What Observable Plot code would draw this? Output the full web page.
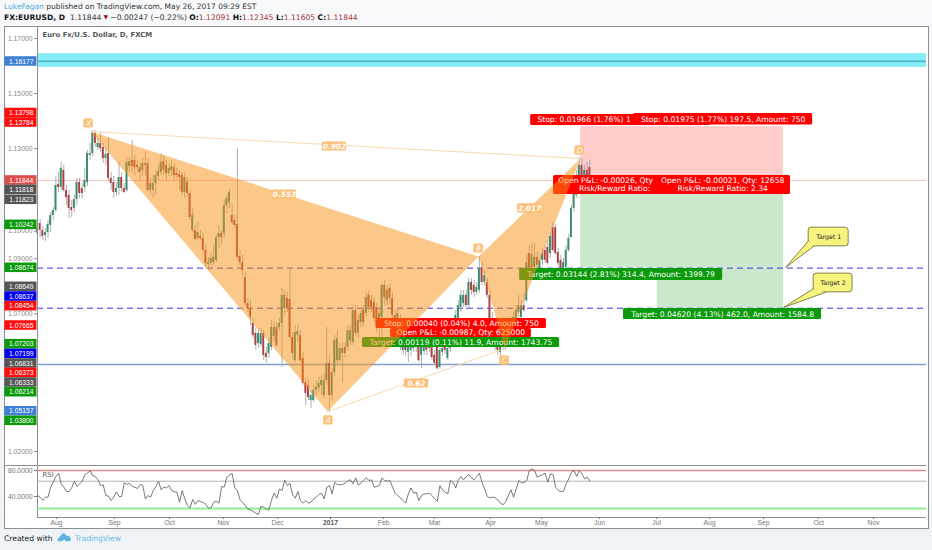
<!DOCTYPE html>
<html>
<head>
<meta charset="utf-8">
<script src="https://cdn.jsdelivr.net/npm/d3@7"></script>
<script src="https://cdn.jsdelivr.net/npm/@observablehq/plot@0.6"></script>
<style>
html,body{margin:0;padding:0;background:#f2f5f9;}
#wrap{position:relative;width:932px;height:550px;overflow:hidden;background:linear-gradient(#f7f9fb,#eff3f8);font-family:"Liberation Sans",Arial,sans-serif;}
#pane{position:absolute;left:4px;top:26px;width:923px;height:501px;background:#fff;border:1px solid #8e8e8e;}
.head{position:absolute;left:4px;white-space:nowrap;font-family:"DejaVu Sans",sans-serif;color:#333;}
#h1{top:2px;font-size:7.5px;}
#h1 b{color:#55a9dc;font-weight:normal;}
#h2{top:13px;font-size:7.6px;}
#h2 b{color:#111;}
#h2 i{font-style:normal;color:#a8323a;}
#tri{display:inline-block;width:7px;margin:0 1px;text-align:center;color:#8f1a1a;font-size:6px;overflow:hidden;vertical-align:baseline;}
#plotA,#plotB{position:absolute;left:0;}
#plotA{top:26px;}#plotB{top:465px;}
#foot{position:absolute;left:4px;top:534px;font-family:"DejaVu Sans",sans-serif;font-size:7.6px;color:#222;white-space:nowrap;}
#foot svg{position:absolute;left:52px;top:-3px;}
#foot span{position:absolute;left:71px;top:0;color:#69b8e2;font-size:7.6px;}
</style>
</head>
<body>
<div id="wrap">
<div id="pane"></div>
<div id="h1" class="head"><b>LukeFagan</b> published on TradingView.com, May 26, 2017 09:29 EST</div>
<div id="h2" class="head"><b>FX:EURUSD, D</b>&nbsp; 1.11844<span id="tri">▼</span>−0.00247 (−0.22%) <b>O:</b><i>1.12091</i> <b>H:</b><i>1.12345</i> <b>L:</b><i>1.11605</i> <b>C:</b><i>1.11844</i></div>
<div id="plotA"></div>
<div id="plotB"></div>
<div id="foot">Created with
<svg width="16" height="13" viewBox="0 0 16 13"><path d="M1 9 L6 3 Q7.5 1.5 9 3 L11 5 Q12.5 4 14 6 L15 9 Q12 12 8 8.5 Q4.5 12 1 9Z" fill="#5db4e0"/></svg>
<span>TradingView</span></div>
</div>
<script>
// Daily candles, price x 10000, one entry per trading day
const opens=[10992,11028,11003,10984,10995,11021,11057,11075,11170,11159,11221,11148,11130,11086,11083,11115,11177,11155,11159,11177,11275,11282,11355,11304,11319,11304,11264,11282,11192,11177,11141,11155,11195,11155,11148,11235,11257,11257,11239,11231,11221,11239,11246,11148,11148,11173,11199,11213,11253,11239,11210,11221,11231,11210,11206,11202,11141,11177,11137,11003,11003,10974,10981,10974,10930,10879,10883,10886,10894,10977,10992,10992,11093,11104,11057,11039,11024,10908,10886,10832,10737,10719,10665,10629,10592,10589,10629,10556,10556,10578,10618,10650,10650,10665,10719,10756,10752,10614,10530,10621,10621,10538,10451,10440,10385,10385,10422,10429,10440,10403,10458,10520,10403,10487,10530,10530,10556,10578,10578,10603,10596,10712,10629,10668,10712,10701,10767,10748,10741,10723,10650,10687,10803,10748,10792,10756,10694,10683,10676,10567,10596,10560,10567,10574,10596,10578,10549,10563,10585,10574,10578,10549,10578,10505,10560,10578,10538,10574,10610,10650,10683,10723,10737,10767,10730,10814,10803,10778,10785,10865,10814,10814,10767,10683,10629,10592,10560,10578,10596,10614,10668,10658,10683,10705,10687,10730,10748,10919,10868,10868,10905,10865,10894,10930,10941,10919,11013,11013,10923,10894,10865,10868,10930,10977,11083,11130,11192,11239,11202,11221,11231];
const highs=[11032,11043,11017,11010,11039,11068,11086,11199,11213,11250,11239,11166,11148,11112,11130,11192,11192,11173,11228,11293,11319,11366,11366,11337,11355,11319,11304,11340,11213,11199,11177,11250,11213,11173,11268,11268,11330,11275,11257,11250,11264,11286,11264,11192,11202,11221,11239,11282,11275,11257,11246,11257,11246,11228,11221,11213,11213,11195,11148,11083,11021,11032,11003,10992,10948,10905,10923,10948,10984,11021,11003,11112,11130,11151,11101,11057,11300,10930,10912,10850,10756,10748,10683,10647,10647,10647,10639,10578,10610,10676,10668,10668,10683,10792,10785,10778,10868,10632,10658,10658,10639,10560,10465,10458,10422,10440,10458,10469,10476,10483,10650,10549,10501,10621,10639,10592,10596,10596,10658,10658,10730,10730,10694,10719,10730,10778,10785,10767,10759,10741,10719,10810,10821,10803,10810,10774,10712,10719,10694,10621,10639,10610,10603,10610,10614,10596,10596,10596,10603,10603,10596,10567,10592,10585,10592,10596,10592,10639,10676,10712,10748,10785,10785,10785,10828,10828,10821,10814,10908,10886,10857,10828,10785,10705,10647,10610,10603,10621,10639,10668,10687,10705,10730,10767,10748,10774,10912,10948,10955,10955,10923,10912,10937,10948,10966,10995,11032,11024,10937,10912,10901,10948,10988,11093,11148,11221,11268,11264,11239,11250,11257];
const lows=[10966,10974,10966,10963,10974,10995,11039,11068,11141,11148,11141,11093,11046,11050,11068,11093,11119,11119,11141,11162,11257,11271,11304,11293,11286,11246,11239,11184,11148,11119,11126,11130,11141,11137,11141,11213,11213,11202,11213,11184,11199,11202,11141,11130,11122,11130,11184,11202,11202,11184,11199,11199,11184,11184,11148,11130,11119,11126,11039,10995,10966,10963,10966,10923,10865,10857,10872,10876,10886,10937,10948,10974,11064,11083,11024,11010,10894,10872,10836,10730,10705,10658,10610,10567,10574,10578,10530,10520,10538,10567,10596,10578,10639,10505,10694,10705,10603,10538,10523,10596,10523,10440,10367,10385,10356,10378,10403,10414,10403,10393,10440,10342,10385,10472,10512,10523,10451,10538,10567,10585,10585,10618,10610,10650,10654,10690,10705,10705,10668,10632,10603,10603,10730,10730,10730,10683,10639,10639,10567,10549,10545,10523,10545,10560,10560,10523,10501,10549,10549,10560,10530,10512,10494,10498,10545,10552,10530,10560,10596,10639,10668,10705,10723,10712,10719,10767,10759,10767,10774,10803,10799,10756,10658,10610,10567,10549,10545,10567,10567,10596,10629,10647,10668,10683,10676,10705,10741,10850,10857,10857,10857,10850,10876,10883,10876,10901,10923,10912,10872,10850,10854,10857,10923,10974,11068,11119,11177,11192,11184,11184,11173];
const closes=[11010,11003,10981,10995,11024,11057,11075,11166,11159,11228,11148,11122,11083,11075,11115,11177,11137,11137,11184,11282,11282,11355,11319,11319,11300,11264,11279,11192,11173,11141,11155,11195,11155,11141,11250,11253,11235,11231,11231,11213,11246,11246,11148,11173,11173,11202,11217,11250,11221,11210,11228,11235,11202,11202,11195,11141,11195,11137,11050,11057,10970,10995,10974,10930,10883,10886,10901,10905,10977,10992,10977,11093,11119,11141,11032,11021,10905,10886,10857,10737,10719,10687,10621,10585,10629,10629,10549,10541,10592,10650,10650,10585,10665,10767,10767,10719,10614,10556,10632,10636,10530,10447,10411,10396,10403,10422,10432,10447,10458,10458,10520,10403,10487,10603,10610,10574,10574,10556,10639,10639,10712,10629,10676,10701,10668,10759,10723,10723,10683,10650,10701,10803,10759,10785,10756,10694,10658,10701,10585,10603,10567,10585,10585,10596,10578,10530,10578,10578,10567,10585,10541,10520,10501,10567,10574,10567,10574,10621,10658,10694,10730,10767,10767,10730,10814,10785,10778,10796,10865,10814,10839,10767,10676,10621,10578,10567,10585,10603,10621,10647,10639,10687,10712,10730,10730,10712,10886,10865,10915,10905,10876,10894,10919,10894,10883,10981,10930,10919,10883,10865,10886,10930,10974,11083,11137,11202,11239,11202,11221,11202,11184];
const rsi=[41.5,39,34,39,39,54.4,62,70.8,75.9,59.5,54.4,47.7,47.7,53.3,63.6,55.4,59.5,63.6,73.8,75.9,80,71.8,70.8,65.6,56.9,57.9,41.5,40.5,33.8,38.9,47.2,40,40,61,58.5,60.5,55.4,54.4,52.3,58.5,57.4,36.4,41.5,39,49.2,55.4,63.6,50.2,54.4,53.3,56.9,49.2,47.2,46.7,31.3,49.2,36.4,26.1,22.6,35.4,27.7,33.8,32.3,30.8,27.7,22,22.6,31.3,32.8,29.7,55.4,54.4,69.7,73.3,75.4,53.3,49.2,34.9,31.3,26.1,20.5,19.5,16.9,14.4,12.3,25.1,23.6,20,19.5,34.9,45.1,37.4,51.8,49.2,65.1,56.9,60.5,42.6,37.4,47.7,33.8,29.7,33.8,29.7,31.3,36.4,39,43.1,45.1,36.4,54.4,56.9,44.1,62,58.5,58,58.5,60.5,64.6,65.6,59.5,68.7,57.4,61,64.6,68.7,64.6,65.6,54.4,55.4,57,68.7,64.6,63.6,64.6,54.4,45.1,41.5,38,33.8,29.7,44,53.3,45.1,46.7,33.8,41.5,44.1,44.1,45.1,41.5,36.4,32.8,56.9,50.2,46.7,44.1,64.6,62,53.3,65.6,70.8,65.6,70.8,73.8,68.7,65.6,70.8,75.9,62,51.8,40,38,39,38,34.9,29.7,27.2,32.3,41.5,50.2,39,51.8,64.6,61,61.5,64.6,80,82.6,80,69.7,71.8,73.8,75.9,62,74.9,73.8,54.4,49.2,47.7,48.2,59.5,67.2,77.4,80,70.8,80,74.9,67.2,69.7,63.6];

// Axes (levels fully covered by price tags are left out)
const priceTicks=[1.02,1.07,1.09,1.10,1.13,1.15,1.17];
const monthBars=[7.2,29.3,50.2,70.7,91.3,131.6,151,172.2,191.6,213.7,235.4,255.5,276,297,317.9];
const monthNames=["Aug","Sep","Oct","Nov","Dec","Feb","Mar","Apr","May","Jun","Jul","Aug","Sep","Oct","Nov"];
const yearBar=111.4;
const rsiTicks=[40,80];

// Price tags on the axis
const tagText=["1.16177","1.13798","1.13784","1.11844","1.11818","1.11823","1.10242","1.08674","1.08649","1.08637","1.08454","1.07665","1.07203","1.07199","1.06831","1.06373","1.06333","1.06214","1.05157","1.03800"];
const tagPrice=[1.16165,1.14294,1.13949,1.11844,1.11504,1.11141,1.10233,1.08671,1.07981,1.07628,1.07276,1.06575,1.05896,1.05547,1.05195,1.04857,1.04505,1.04152,1.03462,1.03113];
const tagFill=["#3f7fd6","#ff0d0d","#ff0d0d","#dd4f4c","#555","#555","#0a9a0a","#0a9a0a","#555","#0000ee","#ff0d0d","#ff0d0d","#0a9a0a","#0000ee","#555","#ff0d0d","#555","#0a9a0a","#3f7fd6","#0a9a0a"];

// Levels
const bandLow=1.15947, bandHigh=1.16455, bandLevel=1.16177;
const lastPrice=1.11844, target1=1.08674, target2=1.07203, supportLevel=1.05157, stopLevel=1.13798;
const positionStart=206.5, positionEnd=283.6, target2Start=235.6;

// Harmonic pattern
const patBar=[20.2,110.3,167.7,177.7,206.5];
const patPrice=[1.1362,1.0345,1.0908,1.0574,1.1264];
const patNames=["X","A","B","C","D"];
const patNameBar=[19.4,110.6,167.7,177.6,206.1];
const patNamePrice=[1.1391,1.0313,1.0937,1.0530,1.1293];
const ratioText=["0.902","0.553","2.017","0.62"];
const ratioBar=[112.9,93.9,187.1,144.1];
const ratioPrice=[1.1308,1.1133,1.1083,1.0447];

// Position labels: boxes, back to front
const boxBar1=[187.5,226.6,196.2,234.6,128.9,134.2,123.6,183.3,222.8];
const boxBar2=[255.9,294.7,248.3,286.3,193.5,187.8,198.5,260.5,298.1];
const boxTop=[1.1424,1.1428,1.1202,1.1202,1.0683,1.0647,1.0614,1.0865,1.0719];
const boxBottom=[1.1384,1.1386,1.1133,1.1133,1.0647,1.0614,1.0578,1.0821,1.0679];
const boxFill=["#f00","#f00","#f00","#f00","#f00","#f00","#0a9a0a","#0a9a0a","#0a9a0a"];
// Position labels: the text that stays visible, with the bar and price of its centre
const labelText=["Stop: 0.01966 (1.76%) 1","Stop: 0.01975 (1.77%) 197.5, Amount: 750","Open P&L: -0.00026, Qty","Risk/Reward Ratio:","Open P&L: -0.00021, Qty: 12658","Risk/Reward Ratio: 2.34","Stop: 0.00040 (0.04%) 4.0, Amount: 750","Open P&L: -0.00987, Qty: 625000","Target: 0.00119 (0.11%) 11.9, Amount: 1743.75","Target: 0.03144 (2.81%) 314.4, Amount: 1399.79","Target: 0.04620 (4.13%) 462.0, Amount: 1584.8"];
const labelBar=[207.8,260.7,216,219.4,260.5,260.5,161.2,161,161,221.9,260.5];
const labelPrice=[1.1404,1.1407,1.1184,1.1155,1.1184,1.1155,1.0665,1.0631,1.0596,1.0843,1.0699];

// Callouts
const noteText=["Target 1","Target 2"];
const noteBar1=[293.2,295.1], noteBar2=[308.4,309.9];
const noteTop=[1.1013,1.0846], noteBottom=[1.0945,1.0778];
const tailBar=[[293.2,284.4,295.1],[295.1,283.7,299.6]];
const tailPrice=[[1.0966,1.0868,1.0945],[1.0792,1.0723,1.0778]];

const bars=opens.map((o,i)=>({i,o:o/1e4,h:highs[i]/1e4,l:lows[i]/1e4,c:closes[i]/1e4}));
const up=bars.filter(b=>b.c>=b.o), down=bars.filter(b=>b.c<b.o);
const tags=tagText.map((t,i)=>({t,y:tagPrice[i],f:tagFill[i]}));
const boxes=boxBar1.map((x1,i)=>({x1,x2:boxBar2[i],y1:boxTop[i],y2:boxBottom[i],f:boxFill[i]}));
const labels=labelText.map((t,i)=>({t,x:labelBar[i],y:labelPrice[i]}));
const notes=noteText.map((t,i)=>({t,x1:noteBar1[i],x2:noteBar2[i],y1:noteTop[i],y2:noteBottom[i]}));
const triangle=idx=>idx.map(k=>({x:patBar[k],y:patPrice[k]}));
const tagWidth=12.36, tagHalf=0.00173, smallHalf=0.00165;
const ORANGE="#f99115", SANS="DejaVu Sans, sans-serif";

const main=Plot.plot({
  width:932,height:439,marginTop:0,marginBottom:0,marginLeft:37,marginRight:6,
  style:{background:"transparent",overflow:"visible",fontFamily:"Liberation Sans, Arial, sans-serif"},
  x:{type:"linear",domain:[0,338],axis:null},
  y:{type:"linear",domain:[1.0149,1.17436],axis:null},
  marks:[
    Plot.rect([0],{x1:0,x2:338,y1:bandLow,y2:bandHigh,fill:"#86ecf7"}),
    Plot.ruleY([bandLevel],{stroke:"#2b87a6",strokeWidth:0.9}),
    Plot.rect([0],{x1:positionStart,x2:positionEnd,y1:lastPrice,y2:stopLevel,fill:"#ffcccc"}),
    Plot.rect([0],{x1:positionStart,x2:positionEnd,y1:target1,y2:lastPrice,fill:"#cce8cc"}),
    Plot.rect([0],{x1:target2Start,x2:positionEnd,y1:target2,y2:target1,fill:"#cce8cc"}),
    Plot.ruleY([lastPrice],{stroke:"#f6c6c2",strokeWidth:1}),
    Plot.ruleY([supportLevel],{stroke:"#7f9fd0",strokeWidth:1.6}),
    Plot.ruleY([target1],{stroke:"#3c34dc",strokeWidth:1,strokeDasharray:"6,4",dy:0.4}),
    Plot.ruleY([target2],{stroke:"#3c34dc",strokeWidth:1,strokeDasharray:"6,4"}),
    Plot.ruleX(bars,{x:"i",y1:"l",y2:"h",stroke:"#9c9c9c",strokeWidth:0.8}),
    Plot.rect(up,{x1:d=>d.i-0.36,x2:d=>d.i+0.36,y1:"o",y2:"c",fill:"#3a8a70"}),
    Plot.rect(down,{x1:d=>d.i-0.36,x2:d=>d.i+0.36,y1:"o",y2:"c",fill:"#ad4240"}),
    Plot.rect(boxes,{x1:"x1",x2:"x2",y1:"y1",y2:"y2",fill:"f",rx:1.5}),
    Plot.text(labels,{x:"x",y:"y",text:"t",fill:"#fff",fontSize:7.6,fontFamily:SANS}),
    Plot.line(triangle([0,1,2,0]),{x:"x",y:"y",fill:ORANGE,fillOpacity:0.5,stroke:"none"}),
    Plot.line(triangle([2,3,4,2]),{x:"x",y:"y",fill:ORANGE,fillOpacity:0.5,stroke:"none"}),
    Plot.line(triangle([0,4]),{x:"x",y:"y",stroke:"#fbd7ab",strokeWidth:1}),
    Plot.line(triangle([1,3]),{x:"x",y:"y",stroke:"#fbd7ab",strokeWidth:1}),
    Plot.rect(ratioText,{x1:(d,i)=>ratioBar[i]-4.6,x2:(d,i)=>ratioBar[i]+4.6,y1:(d,i)=>ratioPrice[i]-smallHalf,y2:(d,i)=>ratioPrice[i]+smallHalf,fill:"#fdbf76",rx:1.5}),
    Plot.text(ratioText,{x:(d,i)=>ratioBar[i],y:(d,i)=>ratioPrice[i],text:d=>d,fill:"#fff",fontSize:7.4,fontStyle:"italic",fontWeight:"bold",fontFamily:SANS}),
    Plot.rect(patNames,{x1:(d,i)=>patNameBar[i]-1.8,x2:(d,i)=>patNameBar[i]+1.8,y1:(d,i)=>patNamePrice[i]-smallHalf,y2:(d,i)=>patNamePrice[i]+smallHalf,fill:"#fdbf76",rx:1.5}),
    Plot.text(patNames,{x:(d,i)=>patNameBar[i],y:(d,i)=>patNamePrice[i],text:d=>d,fill:"#fff",fontSize:7.4,fontStyle:"italic",fontFamily:SANS}),
    Plot.text(["Euro Fx/U.S. Dollar, D, FXCM"],{text:d=>d,frameAnchor:"top-left",dx:5,dy:6,fill:"#555",fontSize:6.9,fontWeight:"bold",fontFamily:SANS,textAnchor:"start"}),
    Plot.rect(notes,{x1:"x1",x2:"x2",y1:"y1",y2:"y2",fill:"#f6f37f",stroke:"#66662a",strokeWidth:0.8,rx:3}),
    ...tailBar.map((t,k)=>Plot.line(t.map((x,j)=>({x,y:tailPrice[k][j]})),{x:"x",y:"y",fill:"#f6f37f",stroke:"#66662a",strokeWidth:0.8})),
    Plot.text(notes,{x:d=>(d.x1+d.x2)/2,y:d=>(d.y1+d.y2)/2,text:"t",fill:"#222",fontSize:6.2,fontFamily:SANS}),
    Plot.axisY(priceTicks,{anchor:"left",tickSize:3,tickPadding:2,tickFormat:d3.format(".5f"),label:null,color:"#8a8a8a",fontSize:6.8}),
    Plot.ruleX([0],{stroke:"#8e8e8e",strokeWidth:1}),
    Plot.rect(tags,{x1:-tagWidth,x2:-0.2,y1:d=>d.y-tagHalf,y2:d=>d.y+tagHalf,fill:"f"}),
    Plot.text(tags,{x:-tagWidth/2,y:"y",text:"t",fill:"#fff",fontSize:6.8})
  ]
});
document.getElementById("plotA").appendChild(main);

const lower=Plot.plot({
  width:932,height:63,marginTop:0,marginBottom:11,marginLeft:37,marginRight:6,
  style:{background:"transparent",overflow:"visible",fontFamily:"Liberation Sans, Arial, sans-serif"},
  x:{type:"linear",domain:[0,338],axis:null},
  y:{type:"linear",domain:[7.7,87.7],axis:null},
  marks:[
    Plot.ruleY([87.7],{x1:-tagWidth,x2:338,stroke:"#8e8e8e",strokeWidth:1}),
    Plot.ruleY([7.7],{stroke:"#8e8e8e",strokeWidth:1}),
    Plot.ruleX([0],{stroke:"#8e8e8e",strokeWidth:1}),
    Plot.ruleY([80],{stroke:"#e08a8a",strokeWidth:1.3}),
    Plot.ruleY([63.5],{stroke:"#a8a8a8",strokeWidth:0.9}),
    Plot.ruleY([21.5],{stroke:"#93ee93",strokeWidth:2}),
    Plot.lineY(rsi,{x:(d,i)=>i,y:d=>d,stroke:"#6a6a6a",strokeWidth:0.9}),
    Plot.text(["RSI"],{text:d=>d,frameAnchor:"top-left",dx:5,dy:7,fill:"#666",fontSize:7,fontFamily:SANS,textAnchor:"start"}),
    Plot.axisY(rsiTicks,{anchor:"left",tickSize:3,tickPadding:2,tickFormat:d3.format(".4f"),label:null,color:"#777",fontSize:6.8}),
    Plot.axisX(monthBars,{anchor:"bottom",tickSize:2,tickPadding:1,tickFormat:d=>monthNames[monthBars.indexOf(d)],label:null,color:"#777",fontSize:6.8}),
    Plot.axisX([yearBar],{anchor:"bottom",tickSize:2,tickPadding:1,tickFormat:()=>"2017",label:null,color:"#555",fontSize:6.8,fontWeight:"bold"})
  ]
});
document.getElementById("plotB").appendChild(lower);
</script>
</body>
</html>
